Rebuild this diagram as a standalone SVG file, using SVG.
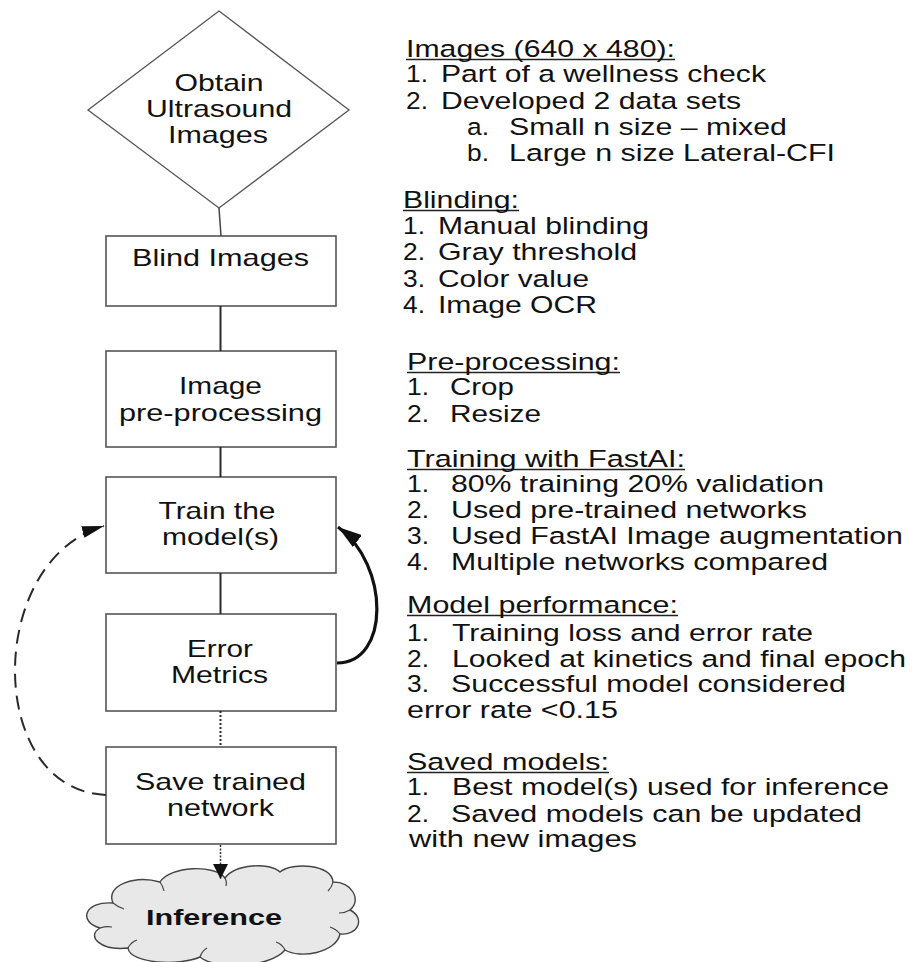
<svg xmlns="http://www.w3.org/2000/svg" width="923" height="962" viewBox="0 0 923 962">
<style>
text{font-family:"Liberation Sans",Arial,"DejaVu Sans",sans-serif;fill:#111}
.n{font-size:23px;text-anchor:middle}
.r{font-size:23.5px}
.box{fill:#fff;stroke:#555;stroke-width:1.6}
.c{fill:none;stroke:#2a2a2a;stroke-width:2}
.u{stroke:#222;stroke-width:1.4}
</style>
<defs>
<marker id="a1" markerUnits="userSpaceOnUse" markerWidth="22" markerHeight="12" refX="22" refY="6" orient="auto"><path d="M0,0 L22,6 L0,12 Z" fill="#111"/></marker>
<marker id="a2" markerUnits="userSpaceOnUse" markerWidth="24" markerHeight="15" refX="24" refY="7.5" orient="auto"><path d="M0,0 L24,7.5 L0,15 Z" fill="#111"/></marker>
<marker id="a3" markerUnits="userSpaceOnUse" markerWidth="15" markerHeight="15" refX="15" refY="7.5" orient="auto"><path d="M0,0 L15,7.5 L0,15 Z" fill="#111"/></marker>
</defs>

<g id="obtain">
<polygon points="219,11 349,110 219,208 88,110" fill="#fff" stroke="#555" stroke-width="1.3"/>
<g transform="scale(1.3 1)">
<text class="n" x="168.46" y="91" textLength="68.5" lengthAdjust="spacingAndGlyphs">Obtain</text>
<text class="n" x="168.46" y="117" textLength="112.3" lengthAdjust="spacingAndGlyphs">Ultrasound</text>
<text class="n" x="167.69" y="143" textLength="76.9" lengthAdjust="spacingAndGlyphs">Images</text>
</g>
</g>

<g id="blind">
<rect class="box" x="106" y="236" width="230" height="70"/>
<g transform="scale(1.3 1)">
<text class="n" x="169.62" y="266" textLength="136.2" lengthAdjust="spacingAndGlyphs">Blind Images</text>
</g>
</g>

<g id="preprocess">
<rect class="box" x="106" y="351" width="230" height="96"/>
<g transform="scale(1.3 1)">
<text class="n" x="169.62" y="394" textLength="63.8" lengthAdjust="spacingAndGlyphs">Image</text>
<text class="n" x="169.62" y="421" textLength="156.2" lengthAdjust="spacingAndGlyphs">pre-processing</text>
</g>
</g>

<g id="train">
<rect class="box" x="106" y="477" width="230" height="96"/>
<g transform="scale(1.3 1)">
<text class="n" x="166.92" y="519" textLength="90" lengthAdjust="spacingAndGlyphs">Train the</text>
<text class="n" x="169.62" y="545" textLength="90" lengthAdjust="spacingAndGlyphs">model(s)</text>
</g>
</g>

<g id="error">
<rect class="box" x="106" y="614" width="230" height="97"/>
<g transform="scale(1.3 1)">
<text class="n" x="169.23" y="657" textLength="50.8" lengthAdjust="spacingAndGlyphs">Error</text>
<text class="n" x="168.85" y="683" textLength="74.6" lengthAdjust="spacingAndGlyphs">Metrics</text>
</g>
</g>

<g id="save">
<rect class="box" x="106" y="747" width="230" height="97"/>
<g transform="scale(1.3 1)">
<text class="n" x="169.62" y="790" textLength="131.5" lengthAdjust="spacingAndGlyphs">Save trained</text>
<text class="n" x="169.62" y="816" textLength="82.3" lengthAdjust="spacingAndGlyphs">network</text>
</g>
</g>

<g id="inference">
<path d="M113,903 C105,885 135,875 160,882 C170,866 215,864 225,878 C235,864 270,862 280,872 C292,862 332,864 333,882 C352,882 362,900 350,910 C366,918 358,936 340,934 C336,953 300,959 285,950 C270,968 215,970 200,957 C180,966 130,964 128,948 C100,951 86,936 100,928 C78,922 84,901 113,903 Z" fill="#e8e8e8" stroke="#444" stroke-width="1.4"/>
<path d="M113,903 Q118,907 124,909 M160,882 Q163,886 164,891 M225,878 Q227,882 226,886 M333,882 Q332,887 328,891 M350,910 Q345,913 339,913 M340,934 Q336,929 330,927 M285,950 Q282,944 276,942 M200,957 Q202,951 207,948 M128,948 Q131,942 137,940 M100,928 Q106,926 112,927" fill="none" stroke="#444" stroke-width="1.2"/>
<g transform="scale(1.3 1)">
<text x="164.62" y="925" font-size="22.5" font-weight="bold" text-anchor="middle" textLength="104.6" lengthAdjust="spacingAndGlyphs">Inference</text>
</g>
</g>

<g id="notes">
<line class="u" x1="406" y1="59.5" x2="675" y2="59.5"/>
<line class="u" x1="403" y1="210.5" x2="519" y2="210.5"/>
<line class="u" x1="407" y1="372.5" x2="620" y2="372.5"/>
<line class="u" x1="407" y1="469.5" x2="685" y2="469.5"/>
<line class="u" x1="407" y1="615.5" x2="678" y2="615.5"/>
<line class="u" x1="407" y1="772.5" x2="609" y2="772.5"/>
<g transform="scale(1.3 1)">
<text class="r" x="312.31" y="57" textLength="206.9" lengthAdjust="spacingAndGlyphs">Images (640 x 480):</text>
<text class="r" x="312.31" y="82" textLength="16.9" lengthAdjust="spacingAndGlyphs">1.</text>
<text class="r" x="339.23" y="82" textLength="250" lengthAdjust="spacingAndGlyphs">Part of a wellness check</text>
<text class="r" x="312.31" y="109" textLength="16.9" lengthAdjust="spacingAndGlyphs">2.</text>
<text class="r" x="339.23" y="109" textLength="230.8" lengthAdjust="spacingAndGlyphs">Developed 2 data sets</text>
<text class="r" x="359.23" y="135" textLength="16.9" lengthAdjust="spacingAndGlyphs">a.</text>
<text class="r" x="391.54" y="135" textLength="213.8" lengthAdjust="spacingAndGlyphs">Small n size – mixed</text>
<text class="r" x="359.23" y="161" textLength="16.9" lengthAdjust="spacingAndGlyphs">b.</text>
<text class="r" x="391.54" y="161" textLength="250.8" lengthAdjust="spacingAndGlyphs">Large n size Lateral-CFI</text>

<text class="r" x="310" y="208" textLength="89.2" lengthAdjust="spacingAndGlyphs">Blinding:</text>
<text class="r" x="310" y="234" textLength="16.9" lengthAdjust="spacingAndGlyphs">1.</text>
<text class="r" x="336.92" y="234" textLength="162.3" lengthAdjust="spacingAndGlyphs">Manual blinding</text>
<text class="r" x="310" y="260" textLength="16.9" lengthAdjust="spacingAndGlyphs">2.</text>
<text class="r" x="336.92" y="260" textLength="153.1" lengthAdjust="spacingAndGlyphs">Gray threshold</text>
<text class="r" x="310" y="287" textLength="16.9" lengthAdjust="spacingAndGlyphs">3.</text>
<text class="r" x="336.92" y="287" textLength="116.2" lengthAdjust="spacingAndGlyphs">Color value</text>
<text class="r" x="310" y="313" textLength="16.9" lengthAdjust="spacingAndGlyphs">4.</text>
<text class="r" x="336.92" y="313" textLength="122.3" lengthAdjust="spacingAndGlyphs">Image OCR</text>

<text class="r" x="313.08" y="370" textLength="163.8" lengthAdjust="spacingAndGlyphs">Pre-processing:</text>
<text class="r" x="313.08" y="395" textLength="16.9" lengthAdjust="spacingAndGlyphs">1.</text>
<text class="r" x="346.15" y="395" textLength="49.2" lengthAdjust="spacingAndGlyphs">Crop</text>
<text class="r" x="313.08" y="422" textLength="16.9" lengthAdjust="spacingAndGlyphs">2.</text>
<text class="r" x="346.15" y="422" textLength="70" lengthAdjust="spacingAndGlyphs">Resize</text>

<text class="r" x="313.08" y="467" textLength="213.8" lengthAdjust="spacingAndGlyphs">Training with FastAI:</text>
<text class="r" x="313.08" y="492" textLength="16.9" lengthAdjust="spacingAndGlyphs">1.</text>
<text class="r" x="346.92" y="492" textLength="286.9" lengthAdjust="spacingAndGlyphs">80% training 20% validation</text>
<text class="r" x="313.08" y="518" textLength="16.9" lengthAdjust="spacingAndGlyphs">2.</text>
<text class="r" x="346.92" y="518" textLength="273.8" lengthAdjust="spacingAndGlyphs">Used pre-trained networks</text>
<text class="r" x="313.08" y="544" textLength="16.9" lengthAdjust="spacingAndGlyphs">3.</text>
<text class="r" x="346.92" y="544" textLength="347.7" lengthAdjust="spacingAndGlyphs">Used FastAI Image augmentation</text>
<text class="r" x="313.08" y="570" textLength="16.9" lengthAdjust="spacingAndGlyphs">4.</text>
<text class="r" x="346.92" y="570" textLength="290" lengthAdjust="spacingAndGlyphs">Multiple networks compared</text>

<text class="r" x="313.08" y="613" textLength="208.5" lengthAdjust="spacingAndGlyphs">Model performance:</text>
<text class="r" x="313.08" y="641" textLength="16.9" lengthAdjust="spacingAndGlyphs">1.</text>
<text class="r" x="347.69" y="641" textLength="277.7" lengthAdjust="spacingAndGlyphs">Training loss and error rate</text>
<text class="r" x="313.08" y="667" textLength="16.9" lengthAdjust="spacingAndGlyphs">2.</text>
<text class="r" x="347.69" y="667" textLength="349.2" lengthAdjust="spacingAndGlyphs">Looked at kinetics and final epoch</text>
<text class="r" x="313.08" y="692" textLength="16.9" lengthAdjust="spacingAndGlyphs">3.</text>
<text class="r" x="346.92" y="692" textLength="303.8" lengthAdjust="spacingAndGlyphs">Successful model considered</text>
<text class="r" x="313.08" y="718" textLength="162.3" lengthAdjust="spacingAndGlyphs">error rate &lt;0.15</text>

<text class="r" x="313.08" y="770" textLength="155.4" lengthAdjust="spacingAndGlyphs">Saved models:</text>
<text class="r" x="313.08" y="795" textLength="16.9" lengthAdjust="spacingAndGlyphs">1.</text>
<text class="r" x="347.69" y="795" textLength="336.2" lengthAdjust="spacingAndGlyphs">Best model(s) used for inference</text>
<text class="r" x="313.08" y="822" textLength="16.9" lengthAdjust="spacingAndGlyphs">2.</text>
<text class="r" x="346.92" y="822" textLength="316.2" lengthAdjust="spacingAndGlyphs">Saved models can be updated</text>
<text class="r" x="314.62" y="847" textLength="175.4" lengthAdjust="spacingAndGlyphs">with new images</text>
</g>
</g>

<g id="connectors">
<line x1="219" y1="208" x2="221" y2="236" stroke="#444" stroke-width="1.5"/>
<line class="c" x1="220.5" y1="306" x2="220.5" y2="351"/>
<line class="c" x1="220.5" y1="447" x2="220.5" y2="477"/>
<line class="c" x1="220.5" y1="573" x2="220.5" y2="614"/>
<line class="c" x1="220.5" y1="711" x2="220.5" y2="747" stroke-dasharray="2 2"/>
<line x1="220.5" y1="845" x2="220.5" y2="879" stroke="#333" stroke-width="1.5" stroke-dasharray="2 1.5" marker-end="url(#a3)"/>
<path class="c" d="M106,795 C-15,790 -15,560 104,526" stroke-dasharray="14 8" marker-end="url(#a1)"/>
<path d="M337,663 C390,663 390,565 338,527" style="fill:none;stroke:#111;stroke-width:3.2" marker-end="url(#a2)"/>
</g>
</svg>
